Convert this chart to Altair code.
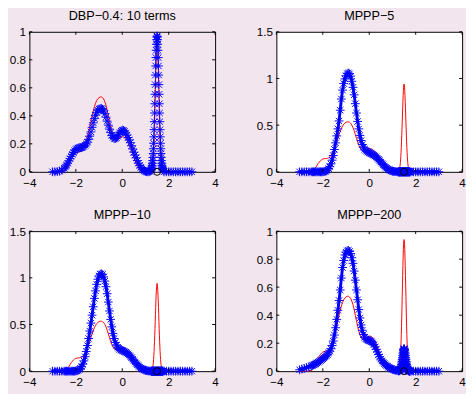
import altair as alt
import pandas as pd

# ---------------- data ----------------
X_MAIN = [-3.0, -2.9, -2.8, -2.7, -2.6, -2.5, -2.45, -2.4, -2.35, -2.3,
          -2.25, -2.2, -2.15, -2.1, -2.05, -2.0, -1.95, -1.9, -1.85, -1.8,
          -1.75, -1.7, -1.65, -1.6, -1.55, -1.5, -1.45, -1.4, -1.35, -1.3,
          -1.25, -1.2, -1.15, -1.1, -1.05, -1.0, -0.95, -0.9, -0.85, -0.8,
          -0.75, -0.7, -0.65, -0.6, -0.55, -0.5, -0.45, -0.4, -0.35, -0.3,
          -0.25, -0.2, -0.15, -0.1, -0.05, 0.0, 0.05, 0.1, 0.15, 0.2,
          0.25, 0.3, 0.35, 0.4, 0.45, 0.5, 0.55, 0.6, 0.65, 0.7,
          0.75, 0.8, 0.85, 0.9, 0.95, 1.0, 1.05, 1.1, 1.15, 1.2]
X_SPIKE = [1.25, 1.26, 1.27, 1.28, 1.29, 1.3, 1.31, 1.32, 1.33, 1.34,
           1.35, 1.36, 1.37, 1.38, 1.39, 1.4, 1.41, 1.42, 1.43, 1.44,
           1.45, 1.46, 1.47, 1.48, 1.49, 1.5, 1.51, 1.52, 1.53, 1.54,
           1.55, 1.56, 1.57, 1.58, 1.59, 1.6, 1.61, 1.62, 1.63, 1.64,
           1.65, 1.66, 1.67, 1.68, 1.69, 1.7, 1.71, 1.72, 1.73, 1.74, 1.75]
X_TAIL = [1.8, 1.9, 2.0, 2.1, 2.2, 2.3, 2.4, 2.5, 2.6, 2.7, 2.8, 2.9, 3.0]

ZERO_TAIL = [0, 0, 0, 0, 0, 0, 0, 0, 0, 0, 0, 0, 0]
ZERO_SPIKE = [0, 0, 0, 0, 0, 0, 0, 0, 0, 0, 0, 0, 0, 0, 0, 0, 0, 0, 0, 0,
              0, 0, 0, 0, 0, 0, 0, 0, 0, 0, 0, 0, 0, 0, 0, 0, 0, 0, 0, 0,
              0, 0, 0, 0, 0, 0, 0, 0, 0, 0, 0]

# true density (red)
RED_MAIN = [0, 0, 0, 0, 0.001, 0.005, 0.01, 0.02, 0.035, 0.05,
            0.07, 0.09, 0.105, 0.12, 0.13, 0.137, 0.14, 0.142, 0.143, 0.145,
            0.15, 0.16, 0.175, 0.195, 0.22, 0.25, 0.285, 0.32, 0.36, 0.40,
            0.435, 0.465, 0.49, 0.51, 0.522, 0.53, 0.535, 0.535, 0.53, 0.52,
            0.50, 0.475, 0.44, 0.40, 0.36, 0.32, 0.285, 0.26, 0.24, 0.23,
            0.225, 0.228, 0.235, 0.242, 0.248, 0.25, 0.25, 0.246, 0.238, 0.226,
            0.212, 0.195, 0.175, 0.152, 0.128, 0.104, 0.082, 0.062, 0.045, 0.031,
            0.02, 0.012, 0.007, 0.004, 0.002, 0.001, 0, 0, 0, 0.001]
RED_SPIKE = [0.004, 0.006, 0.009, 0.013, 0.019, 0.027, 0.038, 0.053, 0.072, 0.097,
             0.127, 0.165, 0.209, 0.261, 0.321, 0.386, 0.458, 0.532, 0.608, 0.683,
             0.753, 0.815, 0.868, 0.907, 0.932, 0.94, 0.932, 0.907, 0.868, 0.815,
             0.753, 0.683, 0.608, 0.532, 0.458, 0.386, 0.321, 0.261, 0.209, 0.165,
             0.127, 0.097, 0.072, 0.053, 0.038, 0.027, 0.019, 0.013, 0.009, 0.006, 0.004]

# DBP-0.4: 10 terms (blue)
DBP_MAIN = [0, 0, 0.002, 0.005, 0.012, 0.025, 0.035, 0.048, 0.062, 0.078,
            0.094, 0.11, 0.125, 0.138, 0.15, 0.16, 0.166, 0.17, 0.172, 0.172,
            0.173, 0.176, 0.181, 0.19, 0.2, 0.212, 0.232, 0.255, 0.285, 0.318,
            0.35, 0.38, 0.405, 0.425, 0.44, 0.448, 0.452, 0.452, 0.447, 0.435,
            0.415, 0.39, 0.362, 0.333, 0.305, 0.28, 0.26, 0.246, 0.238, 0.237,
            0.243, 0.254, 0.267, 0.28, 0.291, 0.298, 0.296, 0.29, 0.278, 0.262,
            0.245, 0.228, 0.208, 0.186, 0.163, 0.14, 0.12, 0.1, 0.08, 0.062,
            0.046, 0.032, 0.021, 0.013, 0.007, 0.003, 0.001, 0, 0.001, 0.004]
DBP_SPIKE = [0.013, 0.018, 0.025, 0.034, 0.046, 0.061, 0.08, 0.103, 0.131, 0.165,
             0.204, 0.25, 0.301, 0.358, 0.42, 0.486, 0.554, 0.623, 0.691, 0.756,
             0.816, 0.868, 0.911, 0.944, 0.963, 0.97, 0.963, 0.944, 0.911, 0.868,
             0.816, 0.756, 0.691, 0.623, 0.554, 0.486, 0.42, 0.358, 0.301, 0.25,
             0.204, 0.165, 0.131, 0.103, 0.08, 0.061, 0.046, 0.034, 0.025, 0.018, 0.013]

# MPPP-5 (blue)
M5_MAIN = [0, 0, 0, 0, 0, 0, 0, 0, 0, 0,
           0, 0, 0, 0, 0, 0, 0.002, 0.005, 0.01, 0.02,
           0.035, 0.055, 0.085, 0.125, 0.175, 0.24, 0.31, 0.385, 0.46, 0.545,
           0.66, 0.78, 0.875, 0.945, 0.995, 1.03, 1.052, 1.058, 1.05, 1.025,
           0.97, 0.905, 0.825, 0.73, 0.63, 0.54, 0.46, 0.39, 0.335, 0.293,
           0.263, 0.243, 0.229, 0.219, 0.211, 0.205, 0.199, 0.193, 0.186, 0.178,
           0.169, 0.159, 0.147, 0.134, 0.12, 0.105, 0.09, 0.076, 0.062, 0.05,
           0.039, 0.03, 0.022, 0.016, 0.011, 0.007, 0.005, 0.003, 0.002, 0.001]

# MPPP-10 (blue)
M10_MAIN = [0, 0, 0, 0, 0, 0, 0, 0, 0, 0,
            0, 0, 0, 0, 0, 0.002, 0.005, 0.01, 0.018, 0.03,
            0.048, 0.075, 0.11, 0.155, 0.21, 0.275, 0.35, 0.43, 0.515, 0.6,
            0.69, 0.78, 0.86, 0.93, 0.985, 1.02, 1.04, 1.043, 1.035, 1.01,
            0.965, 0.905, 0.83, 0.74, 0.645, 0.555, 0.475, 0.405, 0.35, 0.308,
            0.278, 0.257, 0.243, 0.233, 0.226, 0.221, 0.216, 0.21, 0.203, 0.195,
            0.185, 0.173, 0.16, 0.145, 0.129, 0.113, 0.097, 0.082, 0.068, 0.055,
            0.044, 0.034, 0.026, 0.019, 0.013, 0.009, 0.006, 0.004, 0.002, 0.001]

# MPPP-200 (blue)
M200_MAIN = [0.01, 0.015, 0.02, 0.025, 0.031, 0.037, 0.041, 0.045, 0.049, 0.054,
             0.059, 0.064, 0.07, 0.076, 0.082, 0.088, 0.095, 0.102, 0.11, 0.119,
             0.13, 0.143, 0.16, 0.183, 0.215, 0.258, 0.31, 0.37, 0.435, 0.505,
             0.58, 0.665, 0.74, 0.79, 0.83, 0.85, 0.86, 0.863, 0.855, 0.84,
             0.81, 0.77, 0.715, 0.65, 0.58, 0.51, 0.44, 0.38, 0.33, 0.292,
             0.262, 0.242, 0.23, 0.224, 0.221, 0.219, 0.216, 0.211, 0.203, 0.19,
             0.174, 0.156, 0.137, 0.119, 0.102, 0.087, 0.074, 0.063, 0.054, 0.046,
             0.039, 0.033, 0.027, 0.022, 0.018, 0.014, 0.011, 0.008, 0.006, 0.004]
M200_SPIKE = [0.003, 0.003, 0.003, 0.003, 0.003, 0.004, 0.005, 0.007, 0.009, 0.012,
              0.016, 0.022, 0.029, 0.037, 0.047, 0.058, 0.07, 0.083, 0.097, 0.111,
              0.124, 0.136, 0.146, 0.154, 0.158, 0.16, 0.158, 0.154, 0.146, 0.136,
              0.124, 0.111, 0.097, 0.083, 0.07, 0.058, 0.047, 0.037, 0.029, 0.022,
              0.016, 0.012, 0.008, 0.006, 0.004, 0.003, 0.002, 0.001, 0.001, 0, 0]

TITLES = ["DBP\u22120.4: 10 terms", "MPPP\u22125", "MPPP\u221210", "MPPP\u2212200"]
X_TICKS = [-4, -2, 0, 2, 4]
Y_TICKS_A = [0, 0.2, 0.4, 0.6, 0.8, 1]
Y_TICKS_B = [0, 0.5, 1, 1.5]
MARK_X = [1.5]
MARK_Y = [0]

# ---------------- styling ----------------
W, H = 191, 144
BG = "#F2E5EE"
FONT = "Liberation Sans"
STAR = "M-1,0L1,0M0,-1L0,1M-0.72,-0.72L0.72,0.72M-0.72,0.72L0.72,-0.72"

X_ALL = X_MAIN + X_SPIKE + X_TAIL
RED_ALL = RED_MAIN + RED_SPIKE + ZERO_TAIL


def panel(title, blue, ymax, yticks, white, with_line):
    df = pd.DataFrame({"x": X_ALL, "truth": RED_ALL, "est": blue})
    xs = alt.Scale(domain=[-4, 4], nice=False, zero=False)
    ys = alt.Scale(domain=[0, ymax], nice=False, zero=False)
    xax = alt.Axis(values=X_TICKS, format="~f", labelFlush=False)
    yax = alt.Axis(values=yticks, format="~f")
    X = alt.X("x:Q", scale=xs, axis=xax, title=None)
    base = alt.Chart(df)
    layers = [base.mark_line(color="#ff0000", strokeWidth=1).encode(
        x=X, y=alt.Y("truth:Q", scale=ys, axis=yax, title=None))]
    if with_line:
        layers.append(base.mark_line(color="#0000ff", strokeWidth=3).encode(
            x=X, y=alt.Y("est:Q", scale=ys, axis=yax, title=None)))
    layers.append(base.mark_point(shape=STAR, size=81, filled=False,
                                  color="#0000ff", strokeWidth=1,
                                  opacity=1).encode(
        x=X, y=alt.Y("est:Q", scale=ys, axis=yax, title=None)))
    layers.append(alt.Chart(pd.DataFrame({"x": MARK_X, "y": MARK_Y})).mark_point(
        shape="circle", size=52, filled=False, color="black", strokeWidth=1,
        opacity=1).encode(x=X, y=alt.Y("y:Q", scale=ys, axis=yax, title=None)))
    xt = alt.Chart(pd.DataFrame({"t": X_TICKS}))
    yt = alt.Chart(pd.DataFrame({"t": yticks}))
    TX = alt.X("t:Q", scale=xs, axis=xax, title=None)
    TY = alt.Y("t:Q", scale=ys, axis=yax, title=None)
    tk = dict(color="black", strokeWidth=1)
    layers += [
        xt.mark_rule(**tk).encode(x=TX, y=alt.value(H), y2=alt.value(H - 3)),
        xt.mark_rule(**tk).encode(x=TX, y=alt.value(0), y2=alt.value(3)),
        yt.mark_rule(**tk).encode(y=TY, x=alt.value(0), x2=alt.value(3)),
        yt.mark_rule(**tk).encode(y=TY, x=alt.value(W), x2=alt.value(W - 3)),
    ]
    props = dict(width=W, height=H, title=alt.TitleParams(text=title))
    if white:
        props["view"] = alt.ViewBackground(fill="white", stroke="black")
    return alt.layer(*layers).properties(**props)


p1 = panel(TITLES[0], DBP_MAIN + DBP_SPIKE + ZERO_TAIL, 1, Y_TICKS_A, False, False)
p2 = panel(TITLES[1], M5_MAIN + ZERO_SPIKE + ZERO_TAIL, 1.5, Y_TICKS_B, True, True)
p3 = panel(TITLES[2], M10_MAIN + ZERO_SPIKE + ZERO_TAIL, 1.5, Y_TICKS_B, True, True)
p4 = panel(TITLES[3], M200_MAIN + M200_SPIKE + ZERO_TAIL, 1, Y_TICKS_A, True, True)

chart = alt.vconcat(
    alt.hconcat(p1, p2, spacing=37),
    alt.hconcat(p3, p4, spacing=37),
    spacing=20,
).properties(
    background=BG,
    padding={"top": -4, "left": 0, "right": 0, "bottom": 0},
).configure_view(
    stroke="black", strokeWidth=1
).configure_axis(
    labelFont=FONT, labelFontSize=12, labelColor="black", ticks=False,
    domain=False, grid=False, labelPadding=4
).configure_axisX(
    labelPadding=6
).configure_title(
    font=FONT, fontSize=13, fontWeight="normal", color="black", offset=3
)

chart.save("out.html", embed_options={"renderer": "svg", "actions": False})
